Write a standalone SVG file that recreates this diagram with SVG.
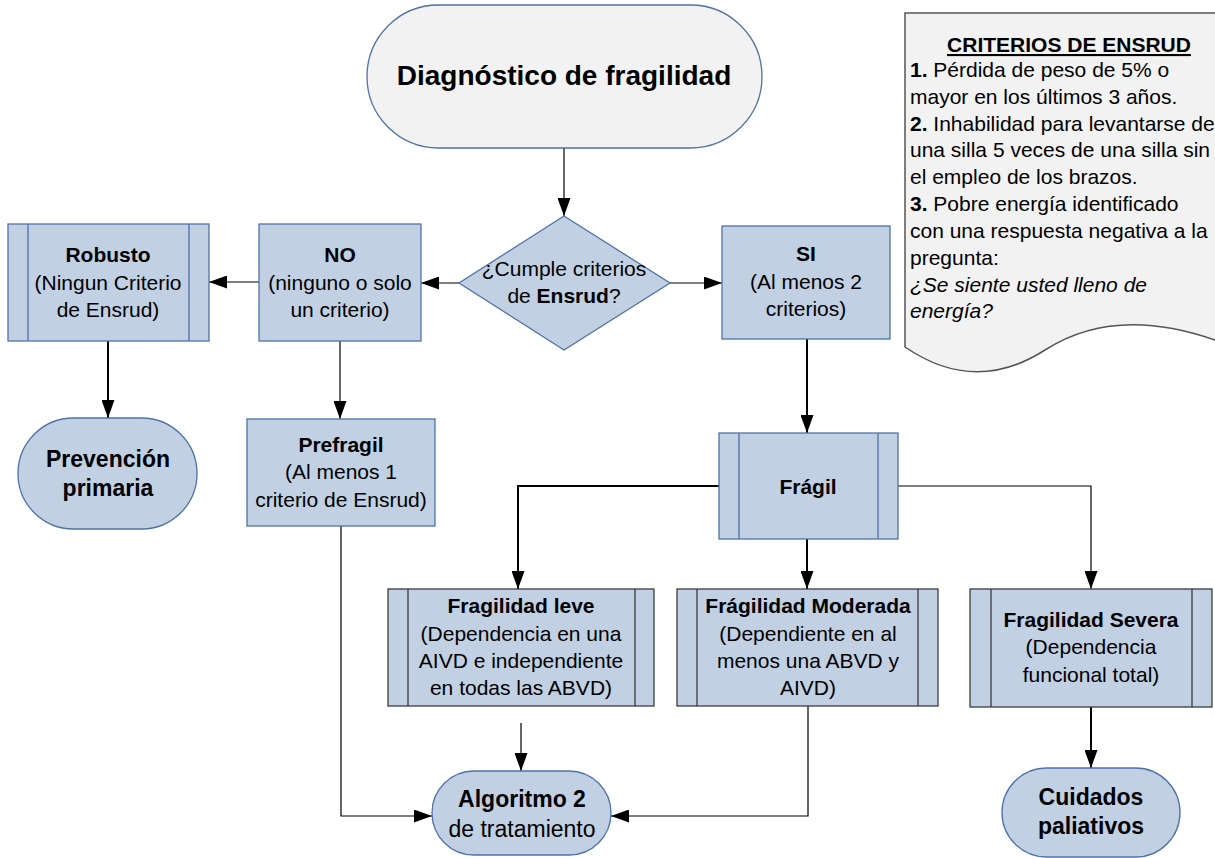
<svg xmlns="http://www.w3.org/2000/svg" width="1215" height="858" viewBox="0 0 1215 858">
<style>
text{font-family:"Liberation Sans",Arial,sans-serif;font-size:21px;fill:#000;text-anchor:middle}
.b{font-weight:bold}
.big{font-size:23px}
.bnode{fill:#c2d0e3;stroke:#4f72a6;stroke-width:1.3}
.gnode{fill:#c2d0e3;stroke:#3c3c3c;stroke-width:1.3}
.in{fill:none;stroke:#4f72a6;stroke-width:1.3}
.ing{fill:none;stroke:#3c3c3c;stroke-width:1.3}
.c{fill:none;stroke:#000;stroke-width:1.2}
.t{fill:none;stroke:#000;stroke-width:2}
.l{text-anchor:start}
</style>
<defs>
<marker id="a" markerUnits="userSpaceOnUse" markerWidth="18" markerHeight="13" refX="18" refY="6.5" orient="auto">
<path d="M0,0 L18,6.5 L0,13 Z" fill="#000"/>
</marker>
</defs>
<g id="connectors">
<path class="c" d="M564,148 V216" marker-end="url(#a)"/>
<path class="c" d="M459,283 H421" marker-end="url(#a)"/>
<path class="c" d="M670,283 H722" marker-end="url(#a)"/>
<path class="c" d="M259,282 H209" marker-end="url(#a)"/>
<path class="t" d="M108,341 V418" marker-end="url(#a)"/>
<path class="c" d="M340,341 V419" marker-end="url(#a)"/>
<path class="t" d="M807,339 V433" marker-end="url(#a)"/>
<path class="t" d="M719,486 H518 V589" marker-end="url(#a)"/>
<path class="t" d="M807,539 V589" marker-end="url(#a)"/>
<path class="c" d="M898,486 H1091 V589" marker-end="url(#a)"/>
<path class="t" d="M1091,707 V768" marker-end="url(#a)"/>
<path class="c" d="M341,526 V816 H432" marker-end="url(#a)"/>
<path class="c" d="M521,723 V771" marker-end="url(#a)"/>
<path class="c" d="M808,706 V816 H611" marker-end="url(#a)"/>
</g>
<g id="diagnostico">
<rect x="367" y="5" width="395" height="143" rx="71.5" fill="#f2f2f2" stroke="#4f72a6" stroke-width="1.3"/>
<text x="564" y="85" class="b" style="font-size:28px">Diagnóstico de fragilidad</text>
</g>
<g id="criterios-ensrud">
<path d="M905,13 H1217 V340 L1215,340 Q1115,305 1045,350 Q975,395 905,347 Z" fill="#f2f2f2" stroke="#555" stroke-width="1.5"/>
<text x="1069" y="52" class="b" text-decoration="underline">CRITERIOS DE ENSRUD</text>
<text x="910" y="77" class="l"><tspan class="b">1.</tspan> Pérdida de peso de 5% o</text>
<text x="910" y="104" class="l">mayor en los últimos 3 años.</text>
<text x="910" y="131" class="l"><tspan class="b">2.</tspan> Inhabilidad para levantarse de</text>
<text x="910" y="157" class="l">una silla 5 veces de una silla sin</text>
<text x="910" y="184" class="l">el empleo de los brazos.</text>
<text x="910" y="211" class="l"><tspan class="b">3.</tspan> Pobre energía identificado</text>
<text x="910" y="238" class="l">con una respuesta negativa a la</text>
<text x="910" y="265" class="l">pregunta:</text>
<text x="910" y="292" class="l" font-style="italic">¿Se siente usted lleno de</text>
<text x="910" y="318" class="l" font-style="italic">energía?</text>
</g>
<g id="decision">
<path d="M564,216 L670,283 L564,350 L459,283 Z" class="bnode" stroke="#3c3c3c"/>
<text x="564" y="276">¿Cumple criterios</text>
<text x="564" y="303">de <tspan class="b">Ensrud</tspan>?</text>
</g>
<g id="robusto">
<rect x="8" y="224" width="201" height="117" class="bnode"/>
<path class="in" d="M28,224 V341 M189,224 V341"/>
<text x="108" y="262" class="b">Robusto</text>
<text x="108" y="290">(Ningun Criterio</text>
<text x="108" y="317">de Ensrud)</text>
</g>
<g id="no">
<rect x="259" y="224" width="162" height="117" class="bnode"/>
<text x="340" y="262" class="b">NO</text>
<text x="340" y="290">(ninguno o solo</text>
<text x="340" y="317">un criterio)</text>
</g>
<g id="si">
<rect x="722" y="226" width="168" height="113" class="bnode"/>
<text x="806" y="261" class="b">SI</text>
<text x="806" y="289">(Al menos 2</text>
<text x="806" y="316">criterios)</text>
</g>
<g id="prevencion">
<rect x="18" y="418" width="179" height="111" rx="55.5" class="bnode"/>
<text x="108" y="467" class="b big">Prevención</text>
<text x="108" y="496" class="b big">primaria</text>
</g>
<g id="prefragil">
<rect x="247" y="419" width="188" height="107" class="bnode" stroke="#555"/>
<text x="341" y="452" class="b">Prefragil</text>
<text x="341" y="479">(Al menos 1</text>
<text x="341" y="507">criterio de Ensrud)</text>
</g>
<g id="fragil">
<rect x="719" y="433" width="179" height="106" class="bnode"/>
<path class="in" d="M739,433 V539 M878,433 V539"/>
<text x="808" y="494" class="b">Frágil</text>
</g>
<g id="fragilidad-leve">
<rect x="388" y="589" width="266" height="117" class="gnode"/>
<path class="ing" d="M408,589 V706 M635,589 V706"/>
<text x="521" y="613" class="b">Fragilidad leve</text>
<text x="521" y="641">(Dependencia en una</text>
<text x="521" y="668">AIVD e independiente</text>
<text x="521" y="695">en todas las ABVD)</text>
</g>
<g id="fragilidad-moderada">
<rect x="677" y="589" width="261" height="117" class="gnode"/>
<path class="ing" d="M697,589 V706 M918,589 V706"/>
<text x="808" y="613" class="b">Frágilidad Moderada</text>
<text x="808" y="641">(Dependiente en al</text>
<text x="808" y="668">menos una ABVD y</text>
<text x="808" y="695">AIVD)</text>
</g>
<g id="fragilidad-severa">
<rect x="970" y="589" width="242" height="118" class="gnode"/>
<path class="ing" d="M991,589 V707 M1192,589 V707"/>
<text x="1091" y="627" class="b">Fragilidad Severa</text>
<text x="1091" y="654">(Dependencia</text>
<text x="1091" y="682">funcional total)</text>
</g>
<g id="cuidados">
<rect x="1002" y="768" width="178" height="89" rx="44.5" class="bnode"/>
<text x="1091" y="805" class="b big">Cuidados</text>
<text x="1091" y="834" class="b big">paliativos</text>
</g>
<g id="algoritmo">
<rect x="432" y="771" width="179" height="84" rx="42" class="bnode"/>
<text x="522" y="807" class="b big">Algoritmo 2</text>
<text x="522" y="837" class="big">de tratamiento</text>
</g>
</svg>
